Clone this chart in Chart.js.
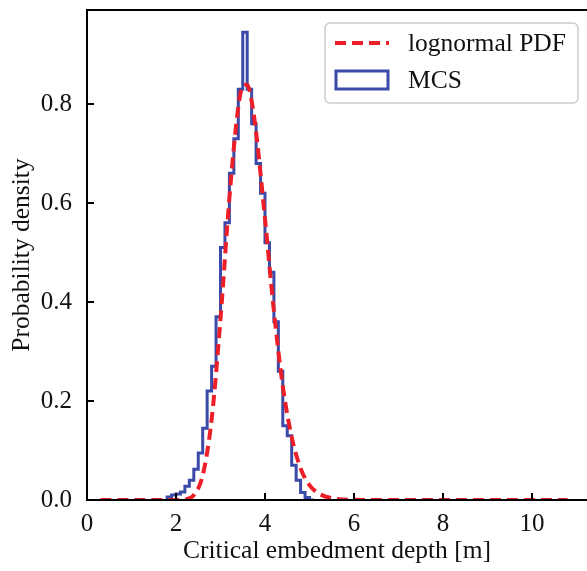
<!DOCTYPE html>
<html>
<head>
<meta charset="utf-8">
<script src="https://cdn.jsdelivr.net/npm/chart.js@4.4.1/dist/chart.umd.min.js"></script>
<style>
  html, body { margin: 0; padding: 0; background: #fff; }
  canvas { display: block; }
</style>
</head>
<body>
<canvas id="chart" width="587" height="571"></canvas>
<script>
// tick positions
const tickX = [0, 2, 4, 6, 8, 10];
const tickY = [0, 0.2, 0.4, 0.6, 0.8];

// lognormal PDF
const pdfX = [0.3, 1.0, 1.5, 2.0, 2.2, 2.4, 2.6, 2.8, 3.0, 3.2, 3.4, 3.5, 3.6, 3.7, 3.8, 4.0, 4.2, 4.4, 4.6, 4.8, 5.0, 5.2, 5.5, 6.0, 7.0, 8.0, 9.0, 10.0, 10.8];
const pdfY = [0, 0, 0, 0.0001, 0.0011, 0.0099, 0.050, 0.162, 0.366, 0.610, 0.794, 0.836, 0.839, 0.806, 0.743, 0.568, 0.382, 0.230, 0.127, 0.064, 0.030, 0.0135, 0.0036, 0.0003, 0, 0, 0, 0, 0];

// MCS histogram (density), bin edges and heights
const binEdges = [1.8, 1.9, 2.0, 2.1, 2.2, 2.3, 2.4, 2.5, 2.6, 2.7, 2.8, 2.9, 3.0, 3.1, 3.2, 3.3, 3.4, 3.5, 3.6, 3.7, 3.8, 3.9, 4.0, 4.1, 4.2, 4.3, 4.4, 4.5, 4.6, 4.7, 4.8, 4.9, 5.0, 5.1];
const mcsDensity = [0.004, 0.006, 0.01, 0.012, 0.016, 0.028, 0.04, 0.062, 0.095, 0.145, 0.22, 0.27, 0.37, 0.51, 0.56, 0.66, 0.73, 0.83, 0.945, 0.83, 0.76, 0.68, 0.62, 0.52, 0.46, 0.36, 0.26, 0.15, 0.13, 0.07, 0.04, 0.015, 0.005];

const serif = "'Liberation Serif', 'DejaVu Serif', serif";
const red = '#ec1f28';
const blue = '#3b4aa8';

// step outline like matplotlib histtype='step'
const mcsPoints = [{ x: binEdges[0], y: 0 }];
mcsDensity.forEach((v, i) => mcsPoints.push({ x: binEdges[i], y: v }));
mcsPoints.push({ x: binEdges[binEdges.length - 1], y: 0 });

const pdfPoints = pdfX.map((x, i) => ({ x: x, y: pdfY[i] }));

// frame, inward ticks and the legend box
const framePlugin = {
    id: 'frame',
    afterDraw(chart) {
        const ctx = chart.ctx;
        const a = chart.chartArea;
        const xs = chart.scales.x;
        const ys = chart.scales.y;
        ctx.save();
        ctx.strokeStyle = '#000';
        ctx.lineWidth = 2;
        ctx.beginPath();
        ctx.moveTo(a.right + 2, a.top);
        ctx.lineTo(a.left, a.top);
        ctx.lineTo(a.left, a.bottom);
        ctx.lineTo(a.right + 2, a.bottom);
        ctx.stroke();
        ctx.beginPath();
        tickX.forEach(v => {
            const px = xs.getPixelForValue(v);
            ctx.moveTo(px, a.bottom);
            ctx.lineTo(px, a.bottom - 7);
        });
        tickY.forEach(v => {
            const py = ys.getPixelForValue(v);
            ctx.moveTo(a.left, py);
            ctx.lineTo(a.left + 7, py);
        });
        ctx.stroke();

        // legend
        const lx = 325, ly = 23, lw = 253, lh = 80, r = 5;
        ctx.fillStyle = 'rgba(255,255,255,0.85)';
        ctx.strokeStyle = '#cccccc';
        ctx.lineWidth = 1.5;
        ctx.beginPath();
        ctx.roundRect(lx, ly, lw, lh, r);
        ctx.fill();
        ctx.stroke();

        ctx.strokeStyle = red;
        ctx.lineWidth = 4;
        ctx.setLineDash([11, 6]);
        ctx.beginPath();
        ctx.moveTo(335, 43);
        ctx.lineTo(389, 43);
        ctx.stroke();
        ctx.setLineDash([]);

        ctx.strokeStyle = blue;
        ctx.lineWidth = 3;
        ctx.strokeRect(336, 71, 52, 18);

        ctx.fillStyle = '#111';
        ctx.font = '25.5px ' + serif;
        ctx.textBaseline = 'middle';
        ctx.textAlign = 'left';
        ctx.fillText('lognormal PDF', 408, 44);
        ctx.fillText('MCS', 408, 81);
        ctx.restore();
    }
};

new Chart(document.getElementById('chart'), {
    type: 'line',
    data: {
        datasets: [
            {
                label: 'MCS',
                data: mcsPoints,
                borderColor: blue,
                borderWidth: 3,
                stepped: 'after',
                pointRadius: 0,
                fill: false,
                order: 2
            },
            {
                label: 'lognormal PDF',
                data: pdfPoints,
                borderColor: red,
                borderWidth: 4,
                borderDash: [11, 6],
                cubicInterpolationMode: 'monotone',
                pointRadius: 0,
                fill: false,
                order: 1
            }
        ]
    },
    options: {
        responsive: false,
        animation: false,
        devicePixelRatio: 1,
        layout: { padding: { top: 10, right: 0, left: 0, bottom: 0 } },
        plugins: {
            legend: { display: false },
            tooltip: { enabled: false }
        },
        scales: {
            x: {
                type: 'linear',
                min: 0,
                max: 11.236,
                afterFit(scale) {
                    scale.height = 71;
                    scale.paddingLeft = 0;
                    scale.paddingRight = 0;
                },
                afterBuildTicks(scale) { scale.ticks = tickX.map(v => ({ value: v })); },
                grid: { display: false },
                border: { display: false },
                ticks: {
                    color: '#111',
                    padding: 1,
                    font: { family: serif, size: 25 }
                },
                title: {
                    display: true,
                    text: 'Critical embedment depth [m]',
                    color: '#111',
                    font: { family: serif, size: 25.5 },
                    padding: { top: 4, bottom: 4 }
                }
            },
            y: {
                min: 0,
                max: 0.99,
                afterFit(scale) {
                    scale.width = 87;
                    scale.paddingTop = 0;
                    scale.paddingBottom = 0;
                },
                afterBuildTicks(scale) { scale.ticks = tickY.map(v => ({ value: v })); },
                grid: { display: false },
                border: { display: false },
                ticks: {
                    color: '#111',
                    padding: 7,
                    font: { family: serif, size: 25 },
                    callback: v => v.toFixed(1)
                },
                title: {
                    display: true,
                    text: 'Probability density',
                    color: '#111',
                    font: { family: serif, size: 25.5 },
                    padding: { top: 7, bottom: 7 }
                }
            }
        }
    },
    plugins: [framePlugin]
});
</script>
</body>
</html>
